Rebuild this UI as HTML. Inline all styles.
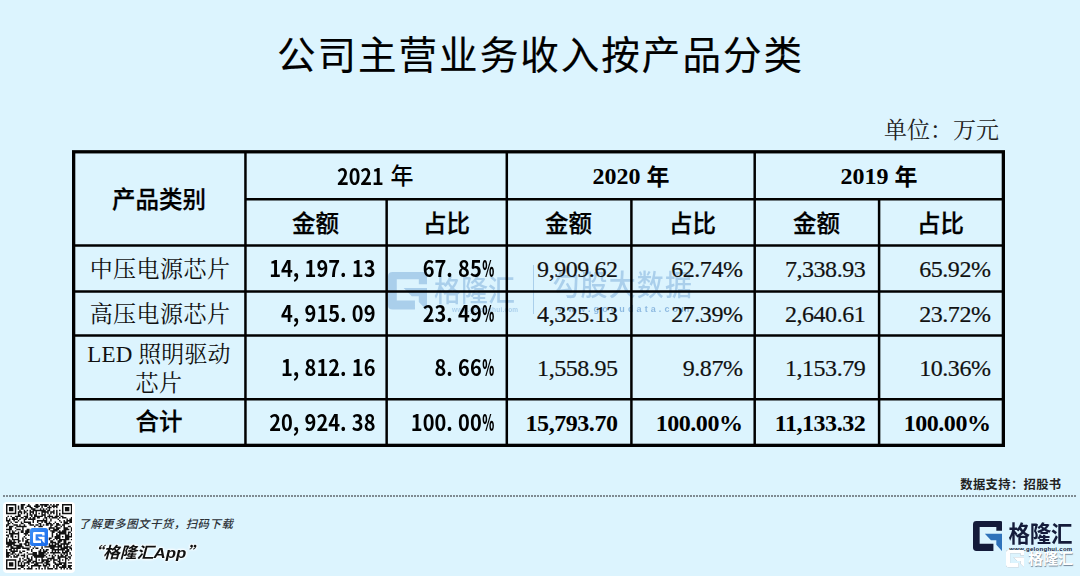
<!DOCTYPE html>
<html lang="zh-CN">
<head>
<meta charset="utf-8">
<title>公司主营业务收入按产品分类</title>
<style>
html,body{margin:0;padding:0;}
body{width:1080px;height:576px;overflow:hidden;background:#dcf4fe;position:relative;
  font-family:"Liberation Sans","Noto Sans CJK SC",sans-serif;color:#000;}
.abs{position:absolute;white-space:nowrap;}
.ln{position:absolute;background:#000;}
.title{left:0;width:1080px;top:27px;text-align:center;font-size:38.5px;line-height:58px;letter-spacing:2.05px;padding-left:1px;box-sizing:border-box;
  font-family:"Liberation Sans","Noto Sans CJK SC",sans-serif;font-weight:400;-webkit-text-stroke:0.18px #000;color:#000;}
.unit{font-family:"Liberation Serif","Noto Serif CJK SC",serif;font-size:23px;line-height:30px;color:#222;}
.hb{font-family:"Liberation Sans","Noto Sans CJK SC",sans-serif;font-weight:500;-webkit-text-stroke:0.25px #000;font-size:23.5px;line-height:30px;text-align:center;}
.yr{font-family:"Liberation Serif","Noto Sans CJK SC",serif;font-weight:700;font-size:24px;line-height:30px;text-align:center;word-spacing:0px;}
.yr span{font-size:23px;position:relative;top:1px;}
.y21{font-family:"Noto Sans CJK SC","Liberation Sans",sans-serif;font-weight:700;font-size:22px;line-height:30px;transform:scaleX(0.9);transform-origin:0 50%;}
.y21n{font-family:"Liberation Sans","Noto Sans CJK SC",sans-serif;font-weight:500;font-size:23px;line-height:30px;}
.sr{font-family:"Liberation Serif","Noto Serif CJK SC",serif;font-size:24px;line-height:30px;color:#111;letter-spacing:-0.45px;-webkit-text-stroke:0.2px #111;}
.srb{font-family:"Liberation Serif","Noto Serif CJK SC",serif;font-weight:700;font-size:24px;line-height:30px;letter-spacing:-0.45px;}
.lab{font-family:"Liberation Serif","Noto Serif CJK SC",serif;font-size:23px;line-height:30px;text-align:center;color:#111;letter-spacing:0.45px;}
.mono{font-family:"Noto Sans CJK SC","Liberation Sans",sans-serif;font-weight:700;font-size:22px;line-height:30px;text-align:right;transform:scale(0.91,1.0);transform-origin:100% 50%;}
.mono i{font-style:normal;display:inline-block;width:0.59em;text-align:left;}
.mono b{display:inline-block;width:0.59em;text-align:left;}
.mono b span{display:inline-block;transform:scaleX(0.61);transform-origin:0 50%;}
.ft1{font-family:"Liberation Sans","Noto Sans CJK SC",sans-serif;font-weight:500;font-style:italic;font-size:11.4px;line-height:18px;letter-spacing:0.52px;color:#2b3036;}
.ft2{font-family:"Liberation Sans","Noto Sans CJK SC",sans-serif;font-weight:700;font-style:italic;font-size:15.5px;line-height:22px;color:#111;text-shadow:0 0 2px #fff,0 0 2px #fff,0 0 3px #fff,0 0 3px #fff;}
.ft2{transform:scaleX(1.09);transform-origin:0 50%;}
.ft2 .q{font-family:"Noto Sans CJK SC",sans-serif;}
.ds{font-family:"Liberation Sans","Noto Sans CJK SC",sans-serif;font-weight:700;font-size:12.3px;line-height:18px;color:#222;letter-spacing:0.35px;}
.lg1{font-family:"Liberation Sans","Noto Sans CJK SC",sans-serif;font-weight:700;font-size:21.5px;line-height:30px;color:#141b3a;letter-spacing:-0.3px;transform:scaleY(1.05);transform-origin:50% 40%;}
.lg2{font-family:"Liberation Sans",sans-serif;font-weight:700;font-size:6px;line-height:8px;color:#141b3a;letter-spacing:0.3px;}
.lg3{font-family:"Liberation Sans","Noto Sans CJK SC",sans-serif;font-weight:700;font-size:15px;line-height:22px;color:#fff;text-shadow:0.6px 0.8px 0.8px rgba(90,110,130,.8);}
.wm1{font-family:"Liberation Sans","Noto Sans CJK SC",sans-serif;font-weight:500;font-size:27px;line-height:40px;color:#3f7fc4;}
.wm2{font-family:"Liberation Sans",sans-serif;font-weight:700;font-size:6.5px;line-height:10px;color:#3f7fc4;}
.r{text-align:right;}
.c{text-align:center;}
</style>
</head>
<body>
<div class="abs title">公司主营业务收入按产品分类</div>
<div class="abs unit r" style="left:800px;width:199px;top:116px;">单位：万元</div>


<!-- centre watermark -->
<div class="abs" style="left:0;top:0;width:1080px;height:576px;opacity:.31;pointer-events:none;">
<svg class="abs" style="left:388.3px;top:272.2px;" width="39.1" height="38.5" viewBox="0 0 387 402" preserveAspectRatio="none"><path d="M45 0H357Q387 0 387 30V127H305V77H87V297H267V392H45Q0 392 0 347V45Q0 0 45 0Z" fill="#3f7fc4"/><path d="M155 167H387V402L305 312V252H235Z" fill="#3f7fc4"/></svg>
<div class="abs wm1" style="left:434px;top:270.5px;transform:scaleY(1.1);">格隆汇</div>
<div class="abs wm2" style="left:452px;top:304.5px;letter-spacing:0.2px;">www.gelonghui.com</div>
<div class="abs" style="left:533px;top:265px;width:1.4px;height:49px;background:#3f7fc4;"></div>
<div class="abs wm1" style="left:552.5px;top:266.3px;letter-spacing:1.1px;transform:scaleY(1.08);">勾股大数据</div>
</div>
<div class="abs wm2" style="left:558px;top:303.5px;font-size:9px;letter-spacing:3.1px;opacity:.5;">www.gogudata.com</div>

<svg class="abs" style="left:0;top:0" width="1080" height="576" viewBox="0 0 1080 576">
<rect x="73.65" y="151.8" width="929.70" height="293.55" fill="none" stroke="#000" stroke-width="3.3"/>
<line x1="245.45" y1="151.8" x2="245.45" y2="445.35" stroke="#000" stroke-width="2.5"/>
<line x1="386.65" y1="199.25" x2="386.65" y2="445.35" stroke="#000" stroke-width="2.5"/>
<line x1="506.8" y1="151.8" x2="506.8" y2="445.35" stroke="#000" stroke-width="2.5"/>
<line x1="631.4" y1="199.25" x2="631.4" y2="445.35" stroke="#000" stroke-width="2.5"/>
<line x1="754.7" y1="151.8" x2="754.7" y2="445.35" stroke="#000" stroke-width="2.5"/>
<line x1="879.1" y1="199.25" x2="879.1" y2="445.35" stroke="#000" stroke-width="2.5"/>
<line x1="245.45" y1="199.25" x2="1003.35" y2="199.25" stroke="#000" stroke-width="2.5"/>
<line x1="73.65" y1="245.4" x2="1003.35" y2="245.4" stroke="#000" stroke-width="2.5"/>
<line x1="73.65" y1="291.5" x2="1003.35" y2="291.5" stroke="#000" stroke-width="2.5"/>
<line x1="73.65" y1="335.5" x2="1003.35" y2="335.5" stroke="#000" stroke-width="2.5"/>
<line x1="73.65" y1="399.2" x2="1003.35" y2="399.2" stroke="#000" stroke-width="2.5"/>
</svg>

<!-- header -->
<div class="abs hb" style="left:74px;width:170px;top:185.3px;">产品类别</div>
<div class="abs y21" style="left:337px;top:160px;">2021</div><div class="abs y21n" style="left:390.5px;top:161px;">年</div>
<div class="abs yr" style="left:508px;width:246px;top:161px;">2020 <span>年</span></div>
<div class="abs yr" style="left:756px;width:246px;top:161px;">2019 <span>年</span></div>
<div class="abs hb" style="left:245.6px;width:140px;top:209px;">金额</div>
<div class="abs hb" style="left:387.6px;width:118px;top:209px;">占比</div>
<div class="abs hb" style="left:507.6px;width:122px;top:209px;">金额</div>
<div class="abs hb" style="left:631.6px;width:122px;top:209px;">占比</div>
<div class="abs hb" style="left:755.6px;width:122px;top:209px;">金额</div>
<div class="abs hb" style="left:879.6px;width:122px;top:209px;">占比</div>

<!-- row labels -->
<div class="abs lab" style="left:75px;width:170px;top:254.5px;">中压电源芯片</div>
<div class="abs lab" style="left:75px;width:170px;top:299.5px;">高压电源芯片</div>
<div class="abs lab" style="left:74px;width:170px;top:339.5px;letter-spacing:0.1px;">LED 照明驱动</div>
<div class="abs lab" style="left:74px;width:170px;top:369px;">芯片</div>
<div class="abs hb" style="left:74px;width:170px;top:407px;">合计</div>

<!-- 2021 -->
<div class="abs mono" style="left:247px;width:128.5px;top:252px;">14<i>,</i>197<i>.</i>13</div>
<div class="abs mono" style="left:389px;width:104.5px;top:252px;">67<i>.</i>85<b><span>%</span></b></div>
<div class="abs mono" style="left:247px;width:128.5px;top:297px;">4<i>,</i>915<i>.</i>09</div>
<div class="abs mono" style="left:389px;width:104.5px;top:297px;">23<i>.</i>49<b><span>%</span></b></div>
<div class="abs mono" style="left:247px;width:128.5px;top:351px;">1<i>,</i>812<i>.</i>16</div>
<div class="abs mono" style="left:389px;width:104.5px;top:351px;">8<i>.</i>66<b><span>%</span></b></div>
<div class="abs mono" style="left:247px;width:128.5px;top:406px;">20<i>,</i>924<i>.</i>38</div>
<div class="abs mono" style="left:389px;width:104.5px;top:406px;">100<i>.</i>00<b><span>%</span></b></div>

<!-- 2020 -->
<div class="abs sr r" style="left:509px;width:108.5px;top:254px;">9,909.62</div>
<div class="abs sr r" style="left:633px;width:109.5px;top:254px;">62.74%</div>
<div class="abs sr r" style="left:509px;width:108.5px;top:299px;">4,325.13</div>
<div class="abs sr r" style="left:633px;width:109.5px;top:299px;">27.39%</div>
<div class="abs sr r" style="left:509px;width:108.5px;top:353px;">1,558.95</div>
<div class="abs sr r" style="left:633px;width:109.5px;top:353px;">9.87%</div>
<div class="abs srb r" style="left:509px;width:108.5px;top:408px;">15,793.70</div>
<div class="abs srb r" style="left:633px;width:109.5px;top:408px;">100.00%</div>

<!-- 2019 -->
<div class="abs sr r" style="left:757px;width:108.3px;top:254px;">7,338.93</div>
<div class="abs sr r" style="left:881px;width:109.5px;top:254px;">65.92%</div>
<div class="abs sr r" style="left:757px;width:108.3px;top:299px;">2,640.61</div>
<div class="abs sr r" style="left:881px;width:109.5px;top:299px;">23.72%</div>
<div class="abs sr r" style="left:757px;width:108.3px;top:353px;">1,153.79</div>
<div class="abs sr r" style="left:881px;width:109.5px;top:353px;">10.36%</div>
<div class="abs srb r" style="left:757px;width:108.3px;top:408px;">11,133.32</div>
<div class="abs srb r" style="left:881px;width:109.5px;top:408px;">100.00%</div>



<!-- dotted rule -->
<div class="abs" style="left:3px;top:495px;width:1073px;height:2px;background:repeating-linear-gradient(90deg,#7f8a92 0 2px,transparent 2px 3px)"></div>

<!-- QR -->
<div class="abs" style="left:3px;top:501.5px;width:71.5px;height:71px;background:#fff;border-radius:4px;"></div>
<svg class="abs" style="left:5.9px;top:504.4px" width="66.3" height="65.4" viewBox="0 0 45 45" preserveAspectRatio="none" shape-rendering="geometricPrecision"><path d="M0 0h7v1h-7zM10 0h3v1h-3zM15 0h1v1h-1zM20 0h2v1h-2zM23 0h6v1h-6zM30 0h1v1h-1zM32 0h1v1h-1zM34 0h2v1h-2zM38 0h7v1h-7zM0 1h1v1h-1zM6 1h1v1h-1zM8 1h1v1h-1zM10 1h2v1h-2zM14 1h3v1h-3zM19 1h4v1h-4zM24 1h1v1h-1zM26 1h2v1h-2zM29 1h1v1h-1zM31 1h4v1h-4zM38 1h1v1h-1zM44 1h1v1h-1zM0 2h1v1h-1zM2 2h3v1h-3zM6 2h1v1h-1zM8 2h1v1h-1zM10 2h2v1h-2zM13 2h1v1h-1zM16 2h2v1h-2zM20 2h2v1h-2zM24 2h1v1h-1zM28 2h3v1h-3zM32 2h1v1h-1zM34 2h1v1h-1zM38 2h1v1h-1zM40 2h3v1h-3zM44 2h1v1h-1zM0 3h1v1h-1zM2 3h3v1h-3zM6 3h1v1h-1zM8 3h1v1h-1zM10 3h2v1h-2zM17 3h3v1h-3zM23 3h1v1h-1zM25 3h1v1h-1zM27 3h1v1h-1zM29 3h1v1h-1zM38 3h1v1h-1zM40 3h3v1h-3zM44 3h1v1h-1zM0 4h1v1h-1zM2 4h3v1h-3zM6 4h1v1h-1zM9 4h1v1h-1zM12 4h1v1h-1zM14 4h1v1h-1zM16 4h1v1h-1zM18 4h9v1h-9zM28 4h2v1h-2zM32 4h1v1h-1zM34 4h1v1h-1zM36 4h1v1h-1zM38 4h1v1h-1zM40 4h3v1h-3zM44 4h1v1h-1zM0 5h1v1h-1zM6 5h1v1h-1zM8 5h3v1h-3zM12 5h2v1h-2zM16 5h3v1h-3zM20 5h1v1h-1zM24 5h5v1h-5zM30 5h3v1h-3zM34 5h1v1h-1zM38 5h1v1h-1zM44 5h1v1h-1zM0 6h7v1h-7zM8 6h1v1h-1zM10 6h1v1h-1zM12 6h1v1h-1zM14 6h1v1h-1zM16 6h1v1h-1zM18 6h1v1h-1zM20 6h1v1h-1zM22 6h1v1h-1zM24 6h1v1h-1zM26 6h1v1h-1zM28 6h1v1h-1zM30 6h1v1h-1zM32 6h1v1h-1zM34 6h1v1h-1zM36 6h1v1h-1zM38 6h7v1h-7zM8 7h2v1h-2zM14 7h1v1h-1zM16 7h2v1h-2zM19 7h2v1h-2zM24 7h3v1h-3zM29 7h1v1h-1zM34 7h1v1h-1zM36 7h1v1h-1zM1 8h1v1h-1zM3 8h1v1h-1zM6 8h4v1h-4zM12 8h3v1h-3zM17 8h1v1h-1zM19 8h6v1h-6zM26 8h1v1h-1zM28 8h4v1h-4zM33 8h3v1h-3zM37 8h2v1h-2zM0 9h1v1h-1zM4 9h2v1h-2zM7 9h1v1h-1zM10 9h2v1h-2zM13 9h2v1h-2zM16 9h1v1h-1zM18 9h2v1h-2zM21 9h2v1h-2zM26 9h2v1h-2zM29 9h1v1h-1zM31 9h4v1h-4zM36 9h1v1h-1zM38 9h3v1h-3zM44 9h1v1h-1zM0 10h1v1h-1zM2 10h1v1h-1zM4 10h4v1h-4zM9 10h1v1h-1zM12 10h2v1h-2zM15 10h5v1h-5zM25 10h1v1h-1zM27 10h1v1h-1zM30 10h1v1h-1zM35 10h1v1h-1zM41 10h1v1h-1zM43 10h2v1h-2zM0 11h3v1h-3zM5 11h1v1h-1zM8 11h1v1h-1zM12 11h1v1h-1zM18 11h1v1h-1zM21 11h7v1h-7zM30 11h1v1h-1zM36 11h1v1h-1zM39 11h1v1h-1zM41 11h4v1h-4zM1 12h1v1h-1zM3 12h1v1h-1zM6 12h2v1h-2zM10 12h1v1h-1zM12 12h5v1h-5zM18 12h1v1h-1zM21 12h1v1h-1zM24 12h1v1h-1zM26 12h2v1h-2zM29 12h1v1h-1zM33 12h1v1h-1zM37 12h1v1h-1zM39 12h3v1h-3zM43 12h2v1h-2zM1 13h2v1h-2zM4 13h1v1h-1zM10 13h2v1h-2zM15 13h2v1h-2zM22 13h2v1h-2zM27 13h4v1h-4zM32 13h1v1h-1zM34 13h2v1h-2zM39 13h4v1h-4zM0 14h2v1h-2zM5 14h3v1h-3zM9 14h1v1h-1zM12 14h1v1h-1zM16 14h3v1h-3zM20 14h2v1h-2zM23 14h1v1h-1zM25 14h1v1h-1zM27 14h2v1h-2zM30 14h2v1h-2zM34 14h3v1h-3zM38 14h2v1h-2zM0 15h1v1h-1zM2 15h3v1h-3zM7 15h7v1h-7zM19 15h1v1h-1zM22 15h3v1h-3zM30 15h1v1h-1zM33 15h2v1h-2zM37 15h1v1h-1zM39 15h1v1h-1zM42 15h2v1h-2zM2 16h2v1h-2zM6 16h1v1h-1zM11 16h1v1h-1zM29 16h4v1h-4zM34 16h3v1h-3zM39 16h3v1h-3zM44 16h1v1h-1zM0 17h4v1h-4zM7 17h3v1h-3zM11 17h1v1h-1zM14 17h2v1h-2zM29 17h1v1h-1zM32 17h4v1h-4zM39 17h4v1h-4zM44 17h1v1h-1zM2 18h1v1h-1zM4 18h1v1h-1zM6 18h1v1h-1zM10 18h2v1h-2zM13 18h3v1h-3zM30 18h5v1h-5zM36 18h1v1h-1zM38 18h3v1h-3zM44 18h1v1h-1zM0 19h1v1h-1zM2 19h1v1h-1zM4 19h2v1h-2zM8 19h1v1h-1zM10 19h2v1h-2zM13 19h3v1h-3zM31 19h2v1h-2zM35 19h6v1h-6zM42 19h2v1h-2zM2 20h7v1h-7zM12 20h3v1h-3zM31 20h1v1h-1zM34 20h1v1h-1zM36 20h5v1h-5zM42 20h1v1h-1zM44 20h1v1h-1zM0 21h2v1h-2zM3 21h2v1h-2zM8 21h1v1h-1zM13 21h1v1h-1zM15 21h1v1h-1zM31 21h1v1h-1zM34 21h3v1h-3zM40 21h3v1h-3zM44 21h1v1h-1zM1 22h1v1h-1zM3 22h2v1h-2zM6 22h1v1h-1zM8 22h1v1h-1zM12 22h1v1h-1zM31 22h1v1h-1zM33 22h4v1h-4zM38 22h1v1h-1zM40 22h5v1h-5zM0 23h1v1h-1zM4 23h1v1h-1zM8 23h1v1h-1zM11 23h1v1h-1zM13 23h1v1h-1zM29 23h2v1h-2zM33 23h4v1h-4zM40 23h3v1h-3zM0 24h1v1h-1zM2 24h1v1h-1zM4 24h5v1h-5zM11 24h1v1h-1zM14 24h2v1h-2zM29 24h1v1h-1zM32 24h1v1h-1zM34 24h1v1h-1zM36 24h7v1h-7zM44 24h1v1h-1zM0 25h1v1h-1zM2 25h2v1h-2zM5 25h1v1h-1zM8 25h2v1h-2zM11 25h1v1h-1zM13 25h2v1h-2zM30 25h2v1h-2zM35 25h3v1h-3zM39 25h2v1h-2zM0 26h7v1h-7zM8 26h1v1h-1zM13 26h3v1h-3zM30 26h4v1h-4zM35 26h2v1h-2zM39 26h2v1h-2zM42 26h2v1h-2zM0 27h6v1h-6zM9 27h2v1h-2zM12 27h2v1h-2zM15 27h1v1h-1zM29 27h1v1h-1zM31 27h1v1h-1zM33 27h3v1h-3zM37 27h6v1h-6zM1 28h3v1h-3zM5 28h6v1h-6zM13 28h3v1h-3zM29 28h5v1h-5zM35 28h3v1h-3zM39 28h1v1h-1zM41 28h1v1h-1zM44 28h1v1h-1zM0 29h2v1h-2zM3 29h2v1h-2zM7 29h5v1h-5zM16 29h1v1h-1zM19 29h1v1h-1zM24 29h1v1h-1zM26 29h12v1h-12zM39 29h5v1h-5zM3 30h7v1h-7zM11 30h5v1h-5zM18 30h1v1h-1zM20 30h2v1h-2zM24 30h1v1h-1zM30 30h3v1h-3zM35 30h1v1h-1zM37 30h5v1h-5zM43 30h2v1h-2zM0 31h1v1h-1zM2 31h2v1h-2zM5 31h1v1h-1zM7 31h1v1h-1zM14 31h2v1h-2zM17 31h1v1h-1zM23 31h1v1h-1zM25 31h1v1h-1zM27 31h2v1h-2zM31 31h9v1h-9zM41 31h2v1h-2zM44 31h1v1h-1zM0 32h1v1h-1zM3 32h5v1h-5zM9 32h1v1h-1zM11 32h2v1h-2zM17 32h1v1h-1zM22 32h2v1h-2zM25 32h3v1h-3zM31 32h1v1h-1zM33 32h1v1h-1zM35 32h1v1h-1zM38 32h1v1h-1zM40 32h3v1h-3zM0 33h3v1h-3zM4 33h2v1h-2zM9 33h2v1h-2zM14 33h1v1h-1zM18 33h3v1h-3zM22 33h5v1h-5zM28 33h1v1h-1zM30 33h7v1h-7zM38 33h4v1h-4zM43 33h1v1h-1zM0 34h2v1h-2zM3 34h2v1h-2zM6 34h1v1h-1zM8 34h1v1h-1zM12 34h1v1h-1zM15 34h6v1h-6zM22 34h4v1h-4zM27 34h1v1h-1zM32 34h1v1h-1zM37 34h1v1h-1zM39 34h1v1h-1zM41 34h1v1h-1zM43 34h1v1h-1zM0 35h3v1h-3zM5 35h1v1h-1zM7 35h2v1h-2zM10 35h3v1h-3zM14 35h1v1h-1zM18 35h9v1h-9zM29 35h1v1h-1zM31 35h1v1h-1zM33 35h1v1h-1zM35 35h1v1h-1zM37 35h2v1h-2zM40 35h2v1h-2zM44 35h1v1h-1zM0 36h2v1h-2zM3 36h1v1h-1zM5 36h3v1h-3zM12 36h1v1h-1zM14 36h1v1h-1zM17 36h1v1h-1zM19 36h7v1h-7zM27 36h1v1h-1zM31 36h2v1h-2zM35 36h6v1h-6zM42 36h2v1h-2zM9 37h1v1h-1zM11 37h1v1h-1zM14 37h2v1h-2zM17 37h1v1h-1zM20 37h1v1h-1zM24 37h1v1h-1zM28 37h5v1h-5zM35 37h2v1h-2zM40 37h2v1h-2zM43 37h1v1h-1zM0 38h7v1h-7zM9 38h1v1h-1zM12 38h2v1h-2zM15 38h3v1h-3zM20 38h1v1h-1zM22 38h1v1h-1zM24 38h5v1h-5zM30 38h1v1h-1zM32 38h3v1h-3zM36 38h1v1h-1zM38 38h1v1h-1zM40 38h1v1h-1zM42 38h1v1h-1zM0 39h1v1h-1zM6 39h1v1h-1zM8 39h2v1h-2zM11 39h1v1h-1zM14 39h3v1h-3zM18 39h3v1h-3zM24 39h2v1h-2zM27 39h3v1h-3zM32 39h1v1h-1zM35 39h2v1h-2zM40 39h1v1h-1zM0 40h1v1h-1zM2 40h3v1h-3zM6 40h1v1h-1zM8 40h1v1h-1zM10 40h1v1h-1zM12 40h4v1h-4zM17 40h2v1h-2zM20 40h5v1h-5zM26 40h3v1h-3zM32 40h2v1h-2zM36 40h5v1h-5zM42 40h3v1h-3zM0 41h1v1h-1zM2 41h3v1h-3zM6 41h1v1h-1zM8 41h1v1h-1zM10 41h1v1h-1zM12 41h1v1h-1zM15 41h1v1h-1zM19 41h3v1h-3zM25 41h1v1h-1zM27 41h3v1h-3zM33 41h5v1h-5zM39 41h2v1h-2zM0 42h1v1h-1zM2 42h3v1h-3zM6 42h1v1h-1zM8 42h5v1h-5zM14 42h1v1h-1zM17 42h7v1h-7zM25 42h3v1h-3zM29 42h1v1h-1zM32 42h1v1h-1zM34 42h2v1h-2zM38 42h3v1h-3zM42 42h3v1h-3zM0 43h1v1h-1zM6 43h1v1h-1zM10 43h2v1h-2zM15 43h1v1h-1zM17 43h1v1h-1zM22 43h1v1h-1zM26 43h1v1h-1zM28 43h1v1h-1zM32 43h1v1h-1zM34 43h1v1h-1zM36 43h5v1h-5zM42 43h2v1h-2zM0 44h7v1h-7zM8 44h2v1h-2zM12 44h1v1h-1zM14 44h4v1h-4zM20 44h1v1h-1zM22 44h1v1h-1zM24 44h1v1h-1zM26 44h1v1h-1zM28 44h4v1h-4zM33 44h2v1h-2zM37 44h1v1h-1zM39 44h1v1h-1zM41 44h1v1h-1zM43 44h2v1h-2z" fill="#111"/></svg>
<div class="abs" style="left:29.5px;top:528px;width:18.8px;height:18.4px;border-radius:2.5px;background:linear-gradient(135deg,#3f93f7,#1667ea);"></div>
<svg class="abs" style="left:33.2px;top:531.6px" width="11.6" height="11.4" viewBox="0 0 387 402" preserveAspectRatio="none"><path d="M45 0H357Q387 0 387 30V127H305V77H87V297H267V392H45Q0 392 0 347V45Q0 0 45 0Z" fill="#fff"/><path d="M155 167H387V402L305 312V252H235Z" fill="#fff"/></svg>

<div class="abs ft1" style="left:78.5px;top:515px;">了解更多图文干货，扫码下载</div>
<div class="abs ft2" style="left:86px;top:540px;"><span class="q">“</span>格隆汇App<span class="q">”</span></div>

<div class="abs ds" style="left:919px;width:142.5px;top:475.5px;text-align:right;">数据支持：招股书</div>

<!-- logo -->
<svg class="abs" style="left:972.5px;top:520.7px;" width="29.6" height="30.75" viewBox="0 0 387 402" preserveAspectRatio="none"><path d="M45 0H357Q387 0 387 30V127H305V77H87V297H267V392H45Q0 392 0 347V45Q0 0 45 0Z" fill="#141b3a"/><path d="M155 167H387V402L305 312V252H235Z" fill="#2f72ba"/></svg>
<div class="abs lg1" style="left:1008.6px;top:518.5px;">格隆汇</div>
<div class="abs lg2" style="left:1009.3px;top:545px;">www.gelonghui.com</div>

<!-- small white overlay mark -->
<svg class="abs" style="left:1005.8px;top:550.4px;filter:drop-shadow(0.6px 0.8px 0.6px rgba(90,110,130,.75));" width="18.4" height="17.6" viewBox="0 0 387 402" preserveAspectRatio="none"><path d="M45 0H357Q387 0 387 30V127H305V77H87V297H267V392H45Q0 392 0 347V45Q0 0 45 0Z" fill="#fff"/><path d="M155 167H387V402L305 312V252H235Z" fill="#fff"/></svg>
<div class="abs lg3" style="left:1028px;top:548px;">格隆汇</div>

</body>
</html>
